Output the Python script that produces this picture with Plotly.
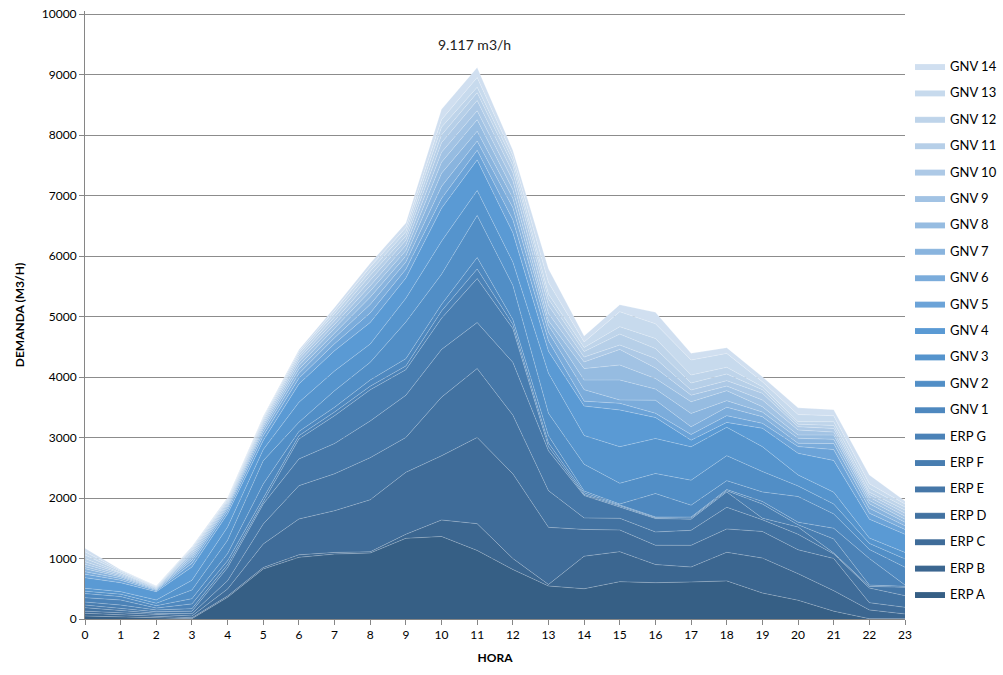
import plotly.graph_objects as go

hours = list(range(24))

series_names = ["ERP A", "ERP B", "ERP C", "ERP D", "ERP E", "ERP F", "ERP G",
                "GNV 1", "GNV 2", "GNV 3", "GNV 4", "GNV 5", "GNV 6", "GNV 7",
                "GNV 8", "GNV 9", "GNV 10", "GNV 11", "GNV 12", "GNV 13", "GNV 14"]

erp_a = [50, 30, 20, 5, 358, 826, 1019, 1074, 1091, 1333, 1364, 1133, 818, 545, 500, 617, 600, 612, 630, 429, 310, 130, 5, 5]
erp_b = [44, 36, 25, 15, 22, 24, 41, 26, 19, 67, 272, 443, 182, 25, 538, 496, 300, 247, 472, 578, 440, 339, 145, 78]
erp_c = [36, 39, 25, 30, 116, 390, 593, 690, 860, 1024, 1061, 1424, 1400, 945, 443, 358, 319, 358, 386, 440, 394, 531, 120, 110]
erp_d = [57, 35, 24, 38, 138, 330, 551, 610, 697, 576, 970, 1139, 970, 606, 190, 193, 220, 248, 358, 193, 256, 76, 242, 193]
erp_e = [43, 37, 26, 42, 216, 330, 441, 500, 606, 697, 788, 760, 872, 659, 369, 186, 221, 185, 254, 27, 120, 14, 27, 138]
erp_f = [50, 53, 30, 41, 50, 50, 330, 461, 515, 424, 515, 728, 558, 68, 20, 20, 15, 20, 21, 233, 37, 234, 21, 16]
erp_g = [72, 84, 30, 79, 64, 50, 55, 59, 60, 61, 121, 158, 70, 61, 25, 15, 12, 15, 19, 42, 43, 176, 440, 20]
gnv_1 = [68, 56, 40, 86, 117, 231, 70, 80, 102, 121, 109, 190, 80, 121, 29, 15, 386, 197, 147, 158, 424, 237, 150, 295]
gnv_2 = [40, 40, 40, 144, 221, 386, 151, 274, 292, 606, 497, 696, 565, 370, 443, 343, 331, 413, 413, 337, 176, 163, 100, 138]
gnv_3 = [47, 42, 54, 160, 220, 183, 330, 326, 303, 391, 545, 411, 385, 661, 475, 605, 579, 551, 468, 412, 182, 196, 87, 107]
gnv_4 = [176, 148, 138, 220, 218, 150, 303, 335, 355, 336, 546, 507, 486, 363, 488, 607, 347, 110, 82, 303, 357, 524, 313, 300]
gnv_5 = [57, 40, 18, 60, 50, 80, 96, 115, 160, 144, 162, 158, 214, 176, 81, 110, 70, 94, 111, 82, 111, 180, 100, 80]
gnv_6 = [42, 30, 15, 50, 40, 60, 80, 100, 140, 120, 200, 153, 200, 141, 190, 55, 217, 127, 139, 110, 54, 100, 80, 60]
gnv_7 = [48, 25, 10, 40, 30, 50, 70, 80, 120, 100, 217, 163, 156, 109, 158, 330, 183, 220, 109, 76, 83, 70, 73, 60]
gnv_8 = [34, 20, 10, 35, 25, 40, 60, 70, 100, 90, 183, 190, 144, 80, 190, 248, 175, 193, 165, 89, 55, 70, 57, 50]
gnv_9 = [41, 20, 10, 35, 25, 35, 60, 70, 90, 90, 165, 147, 150, 120, 111, 258, 175, 110, 76, 111, 82, 49, 53, 50]
gnv_10 = [42, 20, 7, 30, 25, 35, 50, 60, 90, 80, 158, 170, 130, 134, 79, 73, 156, 85, 90, 110, 55, 61, 47, 50]
gnv_11 = [53, 15, 8, 25, 20, 30, 45, 60, 80, 70, 127, 130, 114, 106, 91, 180, 164, 115, 110, 60, 41, 50, 36, 50]
gnv_12 = [58, 15, 7, 25, 20, 25, 40, 60, 70, 70, 130, 91, 86, 83, 67, 122, 166, 133, 110, 49, 42, 60, 64, 50]
gnv_13 = [52, 15, 6, 20, 15, 25, 35, 50, 70, 70, 123, 159, 80, 190, 93, 248, 244, 248, 230, 81, 118, 100, 74, 50]
gnv_14 = [58, 15, 7, 20, 20, 20, 30, 50, 60, 75, 171, 167, 90, 225, 97, 116, 190, 110, 95, 84, 110, 100, 146, 50]

series_values = [erp_a, erp_b, erp_c, erp_d, erp_e, erp_f, erp_g,
                 gnv_1, gnv_2, gnv_3, gnv_4, gnv_5, gnv_6, gnv_7,
                 gnv_8, gnv_9, gnv_10, gnv_11, gnv_12, gnv_13, gnv_14]

colors = ["#365F85", "#3B6690", "#3F6C99", "#4272A1", "#4577A8", "#487DB0", "#4B82B7",
          "#4E88BF", "#518EC6", "#5594CD", "#5A9AD4", "#6BA3D8", "#7BACDB", "#89B4DE",
          "#96BCE1", "#A2C3E4", "#ADC9E6", "#B6CFE8", "#BED4EA", "#C7DAED", "#D0DFF0"]

y_ticks = list(range(0, 10001, 1000))

peak_label = "9.117 m3/h"
peak_hour = 11
peak_value = 9117

fig = go.Figure()
n = len(series_names)
for i, (name, vals, col) in enumerate(zip(series_names, series_values, colors)):
    fig.add_trace(go.Scatter(
        x=hours, y=vals, name=name, mode="lines",
        stackgroup="one", legendgroup=name, legendrank=n - i,
        line=dict(width=0.7, color="rgba(255,255,255,0.3)"),
        fillcolor=col,
    ))

fig.add_annotation(x=peak_hour, y=peak_value, text=peak_label, showarrow=False,
                   yanchor="bottom", yshift=12, xshift=-3,
                   font=dict(family="Lato, Open Sans, sans-serif", size=14, color="#222"))

fig.update_layout(
    width=1003, height=675,
    paper_bgcolor="white", plot_bgcolor="white",
    margin=dict(l=85, r=98, t=11, b=56, autoexpand=False),
    font=dict(family="Lato, Open Sans, sans-serif", size=12, color="#000"),
    legend=dict(traceorder="grouped", xref="container", yref="container",
                x=0.9073, xanchor="left", y=0.9244, yanchor="top",
                tracegroupgap=6.5, font=dict(size=13), itemwidth=30,
                maxheight=640, bgcolor="rgba(0,0,0,0)"),
    showlegend=True,
)
fig.update_xaxes(range=[0, 23], tickmode="array", tickvals=hours, ticktext=[str(h) for h in hours],
                 showgrid=False, showline=True, linecolor="#868686", ticks="outside",
                 ticklen=5, tickcolor="#868686",
                 title=dict(text="<b>HORA</b>", font=dict(size=12), standoff=12))
fig.update_yaxes(range=[0, 10050], tickmode="array", tickvals=y_ticks,
                 showgrid=True, gridcolor="#8C8C8C", gridwidth=1,
                 showline=True, linecolor="#868686", ticks="outside", ticklen=5, tickcolor="#868686",
                 zeroline=False, tickformat="d",
                 title=dict(text="<b>DEMANDA (M3/H)</b>", font=dict(size=12), standoff=14))

# remove the default page margin so the figure fills the 1003x675 window exactly
fig.write_html("out.html", config={"displayModeBar": False},
               post_script="document.body.style.margin='0';")
